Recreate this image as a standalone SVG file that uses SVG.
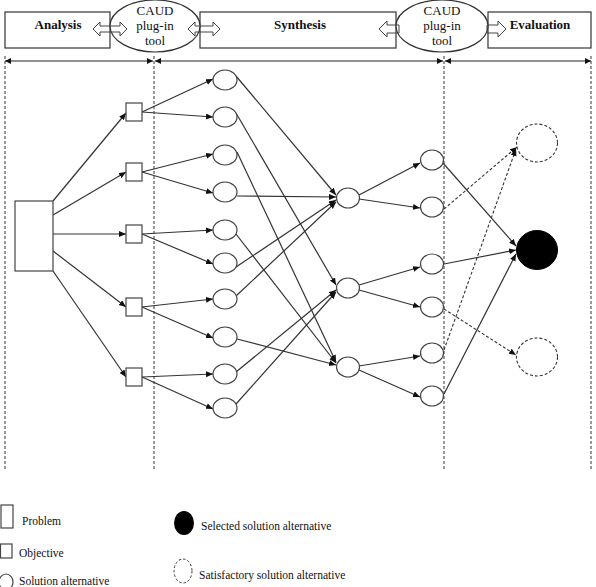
<svg xmlns="http://www.w3.org/2000/svg" width="596" height="587" viewBox="0 0 596 587">
<style>
.box{fill:#fff;stroke:#333;stroke-width:1.2}
.hol{fill:none;stroke:#444;stroke-width:1}
.t{font-family:"Liberation Serif","Times New Roman",serif;fill:#111}
.hb{font-size:13px;font-weight:bold;text-anchor:middle}
.hc{font-size:13px;text-anchor:middle}
.lg{font-size:11.5px}
.n{fill:#fff;stroke:#444;stroke-width:1.2}
.e{fill:none;stroke:#333;stroke-width:1.2;marker-end:url(#ah)}
.ed{fill:none;stroke:#333;stroke-width:1.1;stroke-dasharray:3 2;marker-end:url(#ah)}
.dv{stroke:#333;stroke-width:1;stroke-dasharray:3 2}
.dim{stroke:#222;stroke-width:1.2;fill:none}
</style>
<defs>
<marker id="ah" markerUnits="userSpaceOnUse" markerWidth="8" markerHeight="7" refX="7" refY="3" orient="auto"><path d="M0,0 L7,3 L0,6 z" fill="#111"/></marker>
<marker id="dh" markerUnits="userSpaceOnUse" markerWidth="7" markerHeight="7" refX="6" refY="3" orient="auto-start-reverse"><path d="M0,0 L6,3 L0,6 z" fill="#111"/></marker>
</defs>
<rect width="596" height="587" fill="#fff"/>

<g id="header">
<g id="analysis"><rect class="box" x="5" y="12" width="105" height="36"/><text class="t hb" x="58" y="29">Analysis</text></g>
<g id="synthesis"><rect class="box" x="200" y="12" width="196" height="36"/><text class="t hb" x="300" y="29">Synthesis</text></g>
<g id="evaluation"><rect class="box" x="488" y="12" width="103" height="36"/><text class="t hb" x="540" y="29">Evaluation</text></g>
<g id="caud1"><ellipse class="box" cx="155" cy="26" rx="45" ry="26"/><text class="t hc" x="155" y="15">CAUD</text><text class="t hc" x="155" y="30">plug-in</text><text class="t hc" x="155" y="45">tool</text></g>
<g id="caud2"><ellipse class="box" cx="442" cy="26" rx="46" ry="26"/><text class="t hc" x="442" y="15">CAUD</text><text class="t hc" x="442" y="30">plug-in</text><text class="t hc" x="442" y="45">tool</text></g>
<polygon class="hol" points="93,29 100,22 100,26 120,26 120,22 127,29 120,36 120,32 100,32 100,36"/>
<polygon class="hol" points="188,29 195,22 195,26 213,26 213,22 220,29 213,36 213,32 195,32 195,36"/>
<polygon class="hol" points="379,29 387,21 387,25 399,25 399,33 387,33 387,37"/>
<polygon class="hol" points="506,29 498,21 498,25 487,25 487,33 498,33 498,37"/>
</g>

<g id="phases">
<line class="dim" x1="5" y1="61" x2="153" y2="61" marker-start="url(#dh)" marker-end="url(#dh)"/>
<line class="dim" x1="155" y1="61" x2="443" y2="61" marker-start="url(#dh)" marker-end="url(#dh)"/>
<line class="dim" x1="445" y1="61" x2="591" y2="61" marker-start="url(#dh)" marker-end="url(#dh)"/>
<line class="dv" x1="5" y1="56" x2="5" y2="471"/>
<line class="dv" x1="154" y1="56" x2="154" y2="471"/>
<line class="dv" x1="444" y1="56" x2="444" y2="471"/>
<line class="dv" x1="591" y1="56" x2="591" y2="471"/>
</g>

<g id="connectors">
<path class="e" d="M53,201 L126,113"/>
<path class="e" d="M53,215 L126,172"/>
<path class="e" d="M53,234 L126,234"/>
<path class="e" d="M53,251 L126,307"/>
<path class="e" d="M53,271 L126,377"/>

<path class="e" d="M142,112 L213,79"/>
<path class="e" d="M142,112 L213,117"/>
<path class="e" d="M142,172 L213,154"/>
<path class="e" d="M142,172 L213,193"/>
<path class="e" d="M142,234 L213,230"/>
<path class="e" d="M142,234 L213,264"/>
<path class="e" d="M142,307 L213,299"/>
<path class="e" d="M142,307 L213,338"/>
<path class="e" d="M142,377 L213,374"/>
<path class="e" d="M142,377 L213,409"/>

<path class="e" d="M236,76 L336,195"/>
<path class="e" d="M236,113 L336,285"/>
<path class="e" d="M237,152 L336,362"/>
<path class="e" d="M237,196 L336,197"/>
<path class="e" d="M236,234 L336,363"/>
<path class="e" d="M236,267 L336,200"/>
<path class="e" d="M236,296 L336,202"/>
<path class="e" d="M237,339 L336,365"/>
<path class="e" d="M236,372 L336,290"/>
<path class="e" d="M236,404 L336,292"/>

<path class="e" d="M359,195 L420,163"/>
<path class="e" d="M359,199 L420,208"/>
<path class="e" d="M359,285 L420,267"/>
<path class="e" d="M359,290 L420,307"/>
<path class="e" d="M359,366 L420,356"/>
<path class="e" d="M359,370 L420,397"/>

<path class="e" d="M443,163 L516,246"/>
<path class="ed" d="M444,209 L517,147"/>
<path class="e" d="M444,264 L516,250"/>
<path class="ed" d="M444,309 L516,355"/>
<path class="ed" d="M444,350 L516,149"/>
<path class="e" d="M444,394 L516,254"/>
</g>

<g id="problem"><rect class="n" x="15" y="201" width="38" height="70"/></g>
<g id="objectives">
<rect id="o1" class="n" x="126" y="103" width="16" height="18"/>
<rect id="o2" class="n" x="126" y="163" width="16" height="18"/>
<rect id="o3" class="n" x="126" y="225" width="16" height="18"/>
<rect id="o4" class="n" x="126" y="298" width="16" height="18"/>
<rect id="o5" class="n" x="126" y="368" width="16" height="18"/>
</g>
<g id="solutions1">
<ellipse id="c1" class="n" cx="225" cy="80" rx="12" ry="10"/>
<ellipse id="c2" class="n" cx="225" cy="117" rx="12" ry="10"/>
<ellipse id="c3" class="n" cx="225" cy="155" rx="12" ry="10"/>
<ellipse id="c4" class="n" cx="225" cy="192" rx="12" ry="10"/>
<ellipse id="c5" class="n" cx="225" cy="230" rx="12" ry="10"/>
<ellipse id="c6" class="n" cx="225" cy="263" rx="12" ry="10"/>
<ellipse id="c7" class="n" cx="225" cy="299" rx="12" ry="10"/>
<ellipse id="c8" class="n" cx="225" cy="337" rx="12" ry="10"/>
<ellipse id="c9" class="n" cx="225" cy="374" rx="12" ry="10"/>
<ellipse id="c10" class="n" cx="225" cy="408" rx="12" ry="10"/>
</g>
<g id="solutions2">
<ellipse id="s1" class="n" cx="348" cy="198" rx="11.5" ry="10"/>
<ellipse id="s2" class="n" cx="348" cy="288" rx="11.5" ry="10"/>
<ellipse id="s3" class="n" cx="348" cy="367" rx="11.5" ry="10"/>
</g>
<g id="solutions3">
<ellipse id="d1" class="n" cx="432" cy="160" rx="11.5" ry="10"/>
<ellipse id="d2" class="n" cx="432" cy="207" rx="11.5" ry="10"/>
<ellipse id="d3" class="n" cx="432" cy="264" rx="11.5" ry="10"/>
<ellipse id="d4" class="n" cx="432" cy="307" rx="11.5" ry="10"/>
<ellipse id="d5" class="n" cx="432" cy="353" rx="11.5" ry="10"/>
<ellipse id="d6" class="n" cx="432" cy="396" rx="11.5" ry="10"/>
</g>
<g id="final">
<ellipse id="sat1" cx="537" cy="143" rx="20.5" ry="19" fill="#fff" stroke="#333" stroke-width="1.1" stroke-dasharray="3 2"/>
<ellipse id="selected" cx="537" cy="250" rx="20.5" ry="19.5" fill="#000" stroke="#000"/>
<ellipse id="sat2" cx="537" cy="357" rx="20.5" ry="19" fill="#fff" stroke="#333" stroke-width="1.1" stroke-dasharray="3 2"/>
</g>

<g id="legend">
<rect class="n" x="1" y="505" width="12" height="23"/>
<text class="t lg" x="22" y="525">Problem</text>
<rect class="n" x="0.5" y="544" width="11.5" height="14"/>
<text class="t lg" x="19" y="557">Objective</text>
<ellipse class="n" cx="6" cy="582" rx="7" ry="8"/>
<text class="t lg" x="19" y="585">Solution alternative</text>
<ellipse cx="184" cy="523" rx="10" ry="12" fill="#000"/>
<text class="t lg" x="201" y="530">Selected solution alternative</text>
<ellipse cx="183" cy="571" rx="9" ry="12" fill="none" stroke="#333" stroke-width="1" stroke-dasharray="2.5 2"/>
<text class="t lg" x="199" y="579">Satisfactory solution alternative</text>
</g>
</svg>
